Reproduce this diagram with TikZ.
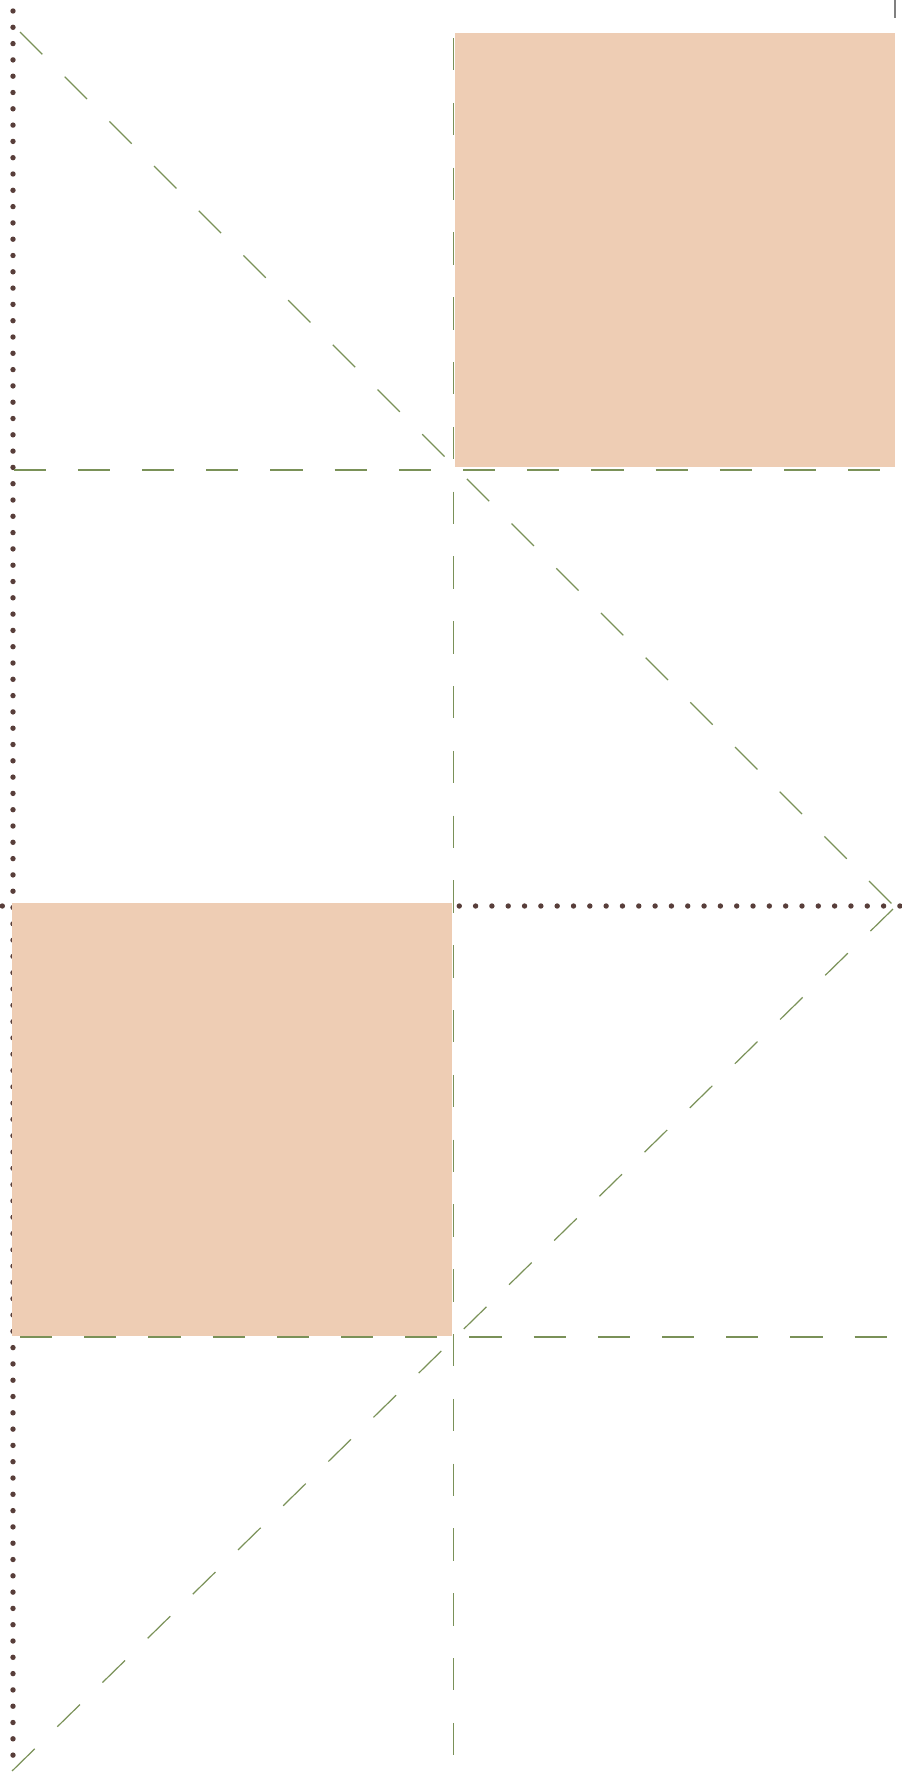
\documentclass[tikz,border=0pt]{standalone}
\begin{document}
\begin{tikzpicture}[x=1pt,y=-1pt,
  dotmark/.style={fill=dotc,draw=none},
  hdash/.style={draw=dashc,line width=1.2pt,dash pattern=on 32.1pt off 32.1pt},
  vdash/.style={draw=dashc,line width=1.2pt,dash pattern=on 32.4pt off 32.4pt},
  ddash/.style={draw=dashc,line width=1.2pt,dash pattern=on 31.6pt off 31.6pt},
  sq/.style={fill=sqc,draw=none}]
\definecolor{dotc}{HTML}{583E3A}
\definecolor{dashc}{HTML}{7A9158}
\definecolor{sqc}{HTML}{EECDB4}
\useasboundingbox (0,0) rectangle (902,1773);
% coordinates
\coordinate (A) at (20,32);
\coordinate (C1) at (893,905);
\coordinate (C2) at (893,909);
\coordinate (E) at (10,1773);
\coordinate (mtop) at (453.3,38);
\coordinate (mbot) at (453.3,1773);
\coordinate (h1l) at (13.6,470);
\coordinate (h1r) at (893,470);
\coordinate (h2l) at (20,1337);
\coordinate (h2r) at (893,1337);
\coordinate (tk1) at (895,0);
\coordinate (tk2) at (895,18);
% dotted axes
\foreach \k in {0,...,107} {\fill[dotmark] (13,{11+16.3*\k}) circle (2.7);}
\foreach \k in {0,...,55} {\fill[dotmark] ({2.3+16.32*\k},906) circle (2.7);}
% squares
\fill[sq] (455,33) rectangle (895,467);
\fill[sq] (12,903) rectangle (452,1336);
% dashed lines
\draw[vdash] (mtop) -- (mbot);
\draw[hdash] (h1l) -- (h1r);
\draw[hdash] (h2l) -- (h2r);
\draw[ddash] (A) -- (C1);
\draw[ddash] (C2) -- (E);
% tick
\draw[draw=gray,line width=2pt] (tk1) -- (tk2);
\end{tikzpicture}
\end{document}
